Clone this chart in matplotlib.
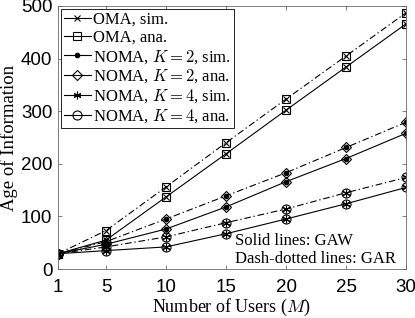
import matplotlib
matplotlib.use("Agg")
import matplotlib.pyplot as plt
from matplotlib.lines import Line2D

plt.rcParams['mathtext.fontset'] = 'cm'
plt.rcParams['font.family'] = ['Liberation Serif', 'DejaVu Serif']

M = [1, 5, 10, 15, 20, 25, 30]
oma_gaw = [29, 55, 137, 219, 302, 384, 466]
oma_gar = [29, 73, 156, 240, 323, 405, 487]
noma2_gaw = [29, 47, 76, 118, 166, 210, 258]
noma2_gar = [29, 52, 95, 139, 183, 231, 279]
noma4_gaw = [29, 35, 42, 67, 95, 124, 155]
noma4_gar = [29, 42, 61, 88, 114, 145, 174]

labels = ['OMA, sim.', 'OMA, ana.', r'NOMA, $K=2$, sim.', r'NOMA, $K=2$, ana.',
          r'NOMA, $K=4$, sim.', r'NOMA, $K=4$, ana.']
xticks = [1, 5, 10, 15, 20, 25, 30]
yticks = [0, 100, 200, 300, 400, 500]

W, H = 415, 318
fig = plt.figure(figsize=(W/100, H/100), dpi=100)
ax = fig.add_axes([58/W, 1-269/H, (406-58)/W, (269-6)/H])

dashdot = (0, (6, 2.5, 1.2, 2.5))
lw = 0.8
asterisk = (6, 2, 0)
sz = {'x': 4.5, 's': 5.8, '.': 6.5, 'D': 5, 'o': 6.5}
groups = [
    (oma_gaw, oma_gar, 'x', 's'),
    (noma2_gaw, noma2_gar, '.', 'D'),
    (noma4_gaw, noma4_gar, asterisk, 'o'),
]
def msz(m):
    return sz.get(m, 5.5) if isinstance(m, str) else 5.5

for gaw, gar, msim, mana in groups:
    for vals, ls in ((gaw, '-'), (gar, dashdot)):
        ax.plot(M, vals, color='k', lw=lw, linestyle=ls)
        ax.plot(M, vals, color='k', lw=0, marker=mana, ms=msz(mana),
                mfc='none', mew=0.8)
        ax.plot(M, vals, color='k', lw=0, marker=msim, ms=msz(msim), mew=0.8)

handles = []
for _, _, msim, mana in groups:
    handles.append(Line2D([], [], color='k', lw=lw, marker=msim,
                          ms=msz(msim), mew=0.8))
    handles.append(Line2D([], [], color='k', lw=lw, marker=mana,
                          ms=msz(mana), mfc='none', mew=0.8))
leg = ax.legend(handles, labels, loc='upper left', bbox_to_anchor=(0, 1),
                borderaxespad=0.15, fontsize=12, handlelength=1.6,
                handletextpad=0.15, labelspacing=0.12, borderpad=0.2,
                fancybox=False, framealpha=1, edgecolor='k')
leg.get_frame().set_linewidth(0.6)

ax.text(235, H-241, 'Solid lines: GAW', transform=None, fontsize=12,
        va='center', ha='left')
ax.text(235, H-259, 'Dash-dotted lines: GAR', transform=None, fontsize=12,
        va='center', ha='left')

ax.set_xlim(1, 30)
ax.set_ylim(0, 500)
ax.set_xticks(xticks)
ax.set_yticks(yticks)
for lab in ax.get_xticklabels() + ax.get_yticklabels():
    lab.set_family(['Liberation Sans', 'DejaVu Sans'])
    lab.set_fontsize(13.5)
ax.tick_params(direction='in', length=3, width=0.5, top=True, right=True,
               color='0.3')
ax.tick_params(axis='x', pad=7)
ax.tick_params(axis='y', pad=4)
for s in ax.spines.values():
    s.set_linewidth(0.6)
    s.set_color('0.4')
ax.set_xlabel(r'Number of Users ($M$)', fontsize=13, labelpad=1)
ax.set_ylabel('Age of Information', fontsize=13.5, labelpad=2)

fig.savefig('out.png', dpi=100)
